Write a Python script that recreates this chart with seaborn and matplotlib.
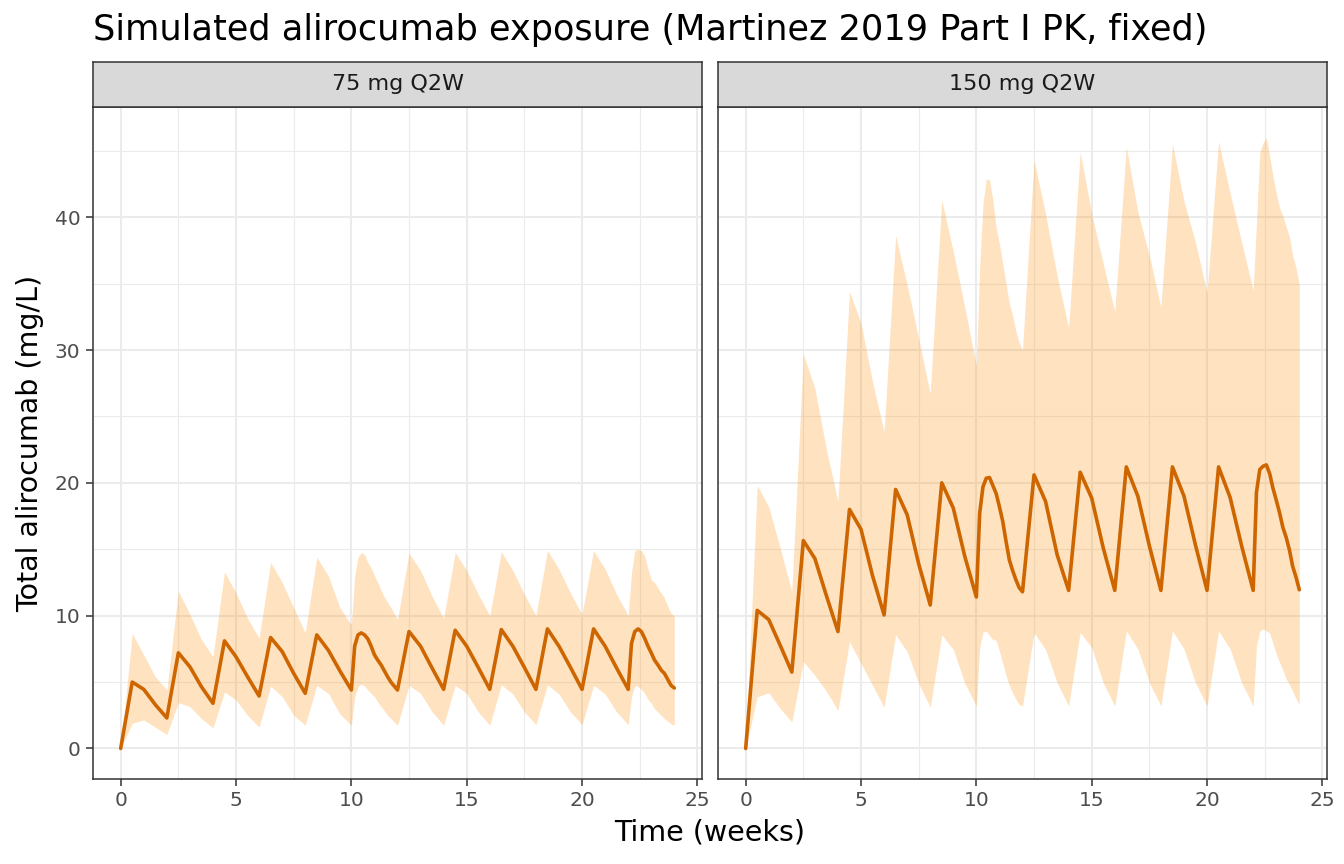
import numpy as np
import pandas as pd
import matplotlib
matplotlib.use("Agg")
import matplotlib.pyplot as plt
import seaborn as sns

sns.set_style("white")
plt.rcParams['font.family'] = ['DejaVu Sans']

# ---------------- data ----------------
time_wk = [0, 0.5, 1, 1.5, 2, 2.5, 3, 3.5, 4, 4.5, 5, 5.5, 6, 6.5, 7, 7.5, 8, 8.5, 9, 9.5, 10,
           10.143, 10.286, 10.429, 10.571, 10.714, 10.857, 11, 11.143, 11.286, 11.429, 11.571, 11.714, 11.857, 12,
           12.5, 13, 13.5, 14, 14.5, 15, 15.5, 16, 16.5, 17, 17.5, 18, 18.5, 19, 19.5, 20, 20.5, 21, 21.5, 22,
           22.143, 22.286, 22.429, 22.571, 22.714, 22.857, 23, 23.143, 23.286, 23.429, 23.571, 23.714, 23.857, 24]

panels = ["75 mg Q2W", "150 mg Q2W"]

med_75 = [0, 5.0, 4.45, 3.3, 2.3, 7.2, 6.15, 4.65, 3.4, 8.1, 6.9, 5.4, 3.95, 8.35, 7.3, 5.65, 4.15, 8.55, 7.4, 5.85, 4.4,
          7.7, 8.55, 8.7, 8.55, 8.25, 7.7, 7.05, 6.65, 6.3, 5.85, 5.4, 5.0, 4.7, 4.4,
          8.8, 7.7, 6.05, 4.45, 8.9, 7.7, 6.1, 4.45, 8.95, 7.7, 6.1, 4.45, 9.0, 7.7, 6.1, 4.45, 9.0, 7.7, 6.05, 4.45,
          7.9, 8.8, 9.0, 8.8, 8.3, 7.7, 7.2, 6.65, 6.3, 5.9, 5.65, 5.2, 4.75, 4.55]
hi_75 = [0, 8.65, 7.05, 5.4, 4.4, 11.85, 10.1, 8.2, 6.9, 13.3, 11.7, 9.8, 8.3, 14.0, 12.5, 10.6, 8.7, 14.4, 13.0, 10.6, 9.3,
         13.0, 14.4, 14.75, 14.6, 14.0, 13.6, 13.0, 12.5, 11.9, 11.4, 11.0, 10.6, 10.15, 9.7,
         14.7, 13.4, 11.45, 9.8, 14.75, 13.4, 11.6, 10.0, 14.8, 13.4, 11.6, 10.0, 14.9, 13.5, 11.7, 10.1, 14.9, 13.5, 11.6, 10.0,
         13.2, 14.9, 15.0, 14.9, 14.5, 13.5, 12.7, 12.5, 12.1, 11.7, 11.35, 10.7, 10.2, 9.95]
lo_75 = [0, 1.9, 2.15, 1.6, 1.05, 3.45, 3.15, 2.25, 1.55, 4.25, 3.65, 2.5, 1.6, 4.7, 3.9, 2.5, 1.75, 4.75, 4.15, 2.6, 1.75,
         3.9, 4.65, 4.85, 4.7, 4.4, 4.15, 3.9, 3.5, 3.15, 2.85, 2.5, 2.25, 2.0, 1.75,
         4.75, 4.15, 2.75, 1.75, 4.75, 4.15, 2.75, 1.75, 4.8, 4.1, 2.75, 1.8, 4.8, 4.1, 2.75, 1.8, 4.75, 4.1, 2.75, 1.8,
         3.9, 4.75, 4.65, 4.45, 4.15, 3.7, 3.4, 3.0, 2.75, 2.5, 2.25, 2.05, 1.85, 1.75]

med_150 = [0, 10.4, 9.7, 7.75, 5.75, 15.65, 14.3, 11.5, 8.8, 18.0, 16.5, 13.0, 10.05, 19.5, 17.6, 13.9, 10.8, 20.0, 18.1, 14.45, 11.4,
           17.7, 19.7, 20.35, 20.4, 19.8, 19.2, 18.2, 17.1, 15.6, 14.2, 13.4, 12.7, 12.1, 11.8,
           20.6, 18.6, 14.6, 11.9, 20.8, 18.85, 15.1, 11.9, 21.2, 19.0, 15.25, 11.9, 21.2, 19.0, 15.3, 11.9, 21.2, 18.9, 15.25, 11.9,
           19.3, 21.0, 21.25, 21.35, 20.7, 19.6, 18.7, 17.75, 16.65, 15.9, 14.95, 13.7, 12.9, 11.95]
hi_150 = [0, 19.8, 18.2, 15.05, 11.8, 29.7, 27.1, 22.5, 18.6, 34.4, 32.0, 27.6, 23.85, 38.6, 34.9, 30.85, 26.7, 41.3, 37.4, 33.2, 28.8,
          36.2, 41.0, 42.9, 42.8, 41.3, 39.2, 38.0, 36.5, 35.0, 33.5, 32.6, 31.4, 30.55, 30.0,
          44.3, 40.25, 35.6, 31.65, 44.9, 40.25, 36.5, 32.9, 45.3, 40.4, 37.1, 33.2, 45.5, 41.2, 38.1, 34.3, 45.7, 41.8, 38.1, 34.5,
          39.6, 44.9, 45.6, 46.0, 44.6, 43.1, 41.8, 40.7, 40.1, 39.3, 38.5, 37.1, 36.2, 34.9]
lo_150 = [0, 3.9, 4.2, 3.0, 2.0, 6.55, 5.5, 4.3, 2.85, 8.05, 6.4, 4.75, 3.1, 8.55, 7.3, 4.9, 3.1, 8.55, 7.45, 4.9, 3.2,
          7.6, 8.75, 8.85, 8.5, 8.2, 8.15, 7.3, 6.4, 5.5, 4.75, 4.2, 3.7, 3.3, 3.2,
          8.7, 7.45, 4.95, 3.2, 8.75, 7.6, 4.95, 3.2, 8.85, 7.5, 4.95, 3.2, 8.85, 7.5, 4.95, 3.2, 8.85, 7.5, 4.95, 3.2,
          7.75, 8.85, 9.0, 8.85, 8.7, 7.9, 7.1, 6.5, 5.9, 5.25, 4.8, 4.3, 3.75, 3.3]

x_ticks = [0, 5, 10, 15, 20, 25]
y_ticks = [0, 10, 20, 30, 40]

title = "Simulated alirocumab exposure (Martinez 2019 Part I PK, fixed)"
x_label = "Time (weeks)"
y_label = "Total alirocumab (mg/L)"

frames = []
for name, m, h, l in [(panels[0], med_75, hi_75, lo_75), (panels[1], med_150, hi_150, lo_150)]:
    frames.append(pd.DataFrame({"time": time_wk, "median": m, "hi": h, "lo": l, "regimen": name}))
df = pd.concat(frames, ignore_index=True)

# ---------------- figure ----------------
W, H = 1344, 864
fig = plt.figure(figsize=(W / 100, H / 100), dpi=100)

def fx(px):
    return px / W

def fy(py):
    return 1 - py / H

panel_left = [93, 718]
panel_w = 609
p_top, p_bot = 107, 779
s_top = 62

line_col = "#CD6600"
fill_col = "#FF8C00"
grid_col = "#EBEBEB"
border_col = "#333333"
tick_col = "#4D4D4D"

for i, name in enumerate(panels):
    ax = fig.add_axes([fx(panel_left[i]), fy(p_bot), fx(panel_w), (p_bot - p_top) / H])
    sub = df[df["regimen"] == name]
    ax.fill_between(sub["time"], sub["lo"], sub["hi"], color=fill_col, alpha=0.25, linewidth=0, zorder=2)
    sns.lineplot(data=sub, x="time", y="median", ax=ax, color=line_col, linewidth=2.6, zorder=3,
                 estimator=None, sort=False)
    ax.set_xlim(-1.2, 25.2)
    ax.set_ylim(-2.3, 48.3)
    ax.set_xticks(x_ticks)
    ax.set_yticks(y_ticks)
    ax.set_xticks([2.5, 7.5, 12.5, 17.5, 22.5], minor=True)
    ax.set_yticks([5, 15, 25, 35, 45], minor=True)
    ax.grid(True, which="major", color=grid_col, linewidth=1.5, zorder=0)
    ax.grid(True, which="minor", color=grid_col, linewidth=0.8, zorder=0)
    ax.set_axisbelow(True)
    for s in ax.spines.values():
        s.set_color(border_col)
        s.set_linewidth(1.1)
    ax.set_xlabel("")
    ax.set_ylabel("")
    ax.tick_params(axis="both", which="major", bottom=True, left=True, colors=border_col,
                   length=5, width=1.1, labelcolor=tick_col, labelsize=14.5, pad=4)
    ax.tick_params(axis="both", which="minor", length=0)
    if i == 1:
        ax.tick_params(axis="y", which="major", left=False, length=0, labelleft=False)
    # strip
    sax = fig.add_axes([fx(panel_left[i]), fy(p_top), fx(panel_w), (p_top - s_top) / H])
    sax.set_facecolor("#D9D9D9")
    sax.set_xticks([])
    sax.set_yticks([])
    for s in sax.spines.values():
        s.set_color(border_col)
        s.set_linewidth(1.1)
    sax.text(0.5, 0.5, name, ha="center", va="center", fontsize=16, color="#1A1A1A",
             transform=sax.transAxes)

fig.text(fx(93), fy(30), title, ha="left", va="center", fontsize=25.3, color="black")
fig.text(fx(710), fy(832), x_label, ha="center", va="center", fontsize=20.5, color="black")
fig.text(fx(30), fy(443), y_label, ha="center", va="center", rotation=90, fontsize=20.5, color="black")

fig.savefig("out.png", dpi=100, facecolor="white")
